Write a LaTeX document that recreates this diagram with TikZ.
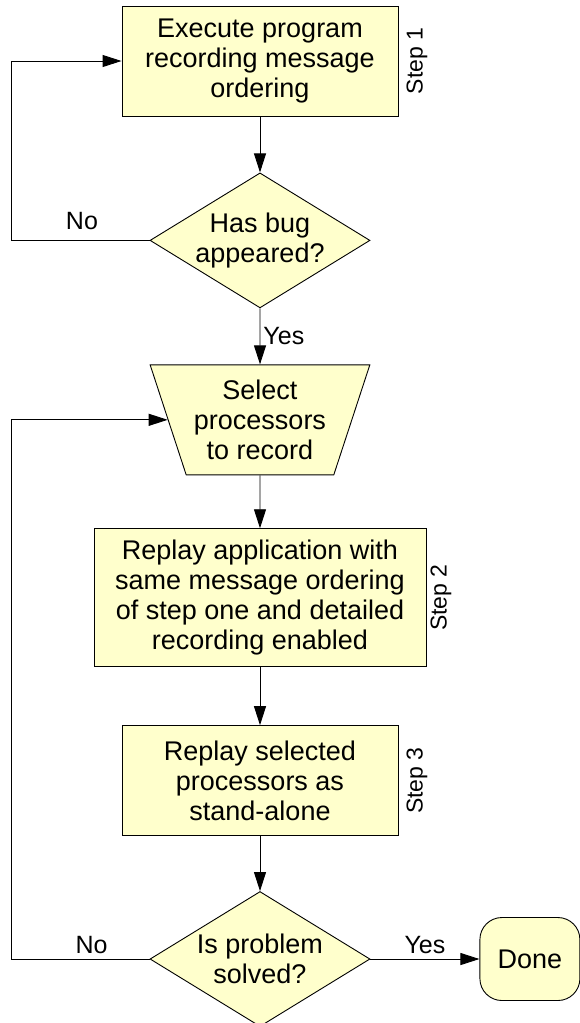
\documentclass[tikz,border=0pt]{standalone}
\usepackage{fontspec}
\setsansfont{Liberation Sans}
\usepackage{tikz}
\usetikzlibrary{arrows.meta,positioning,shapes.geometric}
\definecolor{paleyellow}{RGB}{255,255,204}

\begin{document}
\begin{tikzpicture}[
  x=1pt, y=1pt,
  font=\sffamily\fontsize{27}{30}\selectfont,
  >={Triangle[length=19pt,width=12pt]},
  procbox/.style={draw=black, line width=0.9pt, fill=paleyellow, align=center, inner sep=0pt, minimum width=276pt, minimum height=110pt},
  decision/.style={diamond, draw=black, line width=0.9pt, fill=paleyellow, align=center, inner sep=0pt, aspect=1.63, minimum width=220pt, minimum height=135pt},
  selbox/.style={trapezium, trapezium left angle=112, trapezium right angle=112, trapezium stretches=true, draw=black, line width=0.9pt, fill=paleyellow, align=center, inner sep=0pt, minimum width=220pt, minimum height=110pt},
  term/.style={draw=black, line width=0.9pt, fill=paleyellow, rounded corners=22pt, align=center, minimum width=100pt, minimum height=83pt},
  steplbl/.style={rotate=90, anchor=north, inner sep=0pt, font=\sffamily\fontsize{23}{28}\selectfont},
  lbl/.style={font=\sffamily\fontsize{25}{28}\selectfont, inner sep=5pt},
  arrow/.style={->, line width=0.9pt}
]
\useasboundingbox (0,0) rectangle (580,-1023);

\node[procbox] (exec) at (260,-61) {Execute program\\recording message\\ordering};
\node[decision, below=56pt of exec] (bugq) {Has bug\\appeared?};
\node[selbox, below=56pt of bugq] (select) {Select\\processors\\to record};
\node[procbox, minimum width=332pt, minimum height=138pt, below=53pt of select] (replay) {Replay application with\\same message ordering\\of step one and detailed\\recording enabled};
\node[procbox, below=58pt of replay] (standalone) {Replay selected\\processors as\\stand-alone};
\node[decision, below=55pt of standalone] (solvedq) {Is problem\\solved?};
\node[term, right=109pt of solvedq] (done) {Done};

% step markers
\node[steplbl] at ([xshift=8pt]exec.east) {Step 1};
\node[steplbl] at ([xshift=4pt]replay.east) {Step 2};
\node[steplbl] at ([xshift=8pt]standalone.east) {Step 3};

\draw[arrow] (exec) -- (bugq);
\draw[arrow] (bugq) -- node[lbl, right, inner sep=3pt] {Yes} (select);
\draw[arrow] (select) -- (replay);
\draw[arrow] (replay) -- (standalone);
\draw[arrow] (standalone) -- (solvedq);
\draw[arrow] (solvedq) -- node[lbl, above] {Yes} (done);

% loops back
\draw[arrow] (bugq.west) -- node[lbl, above, pos=0.49, inner sep=10pt] {No} ++(-138,0) |- (exec.west);
\draw[arrow] (solvedq.west) -- node[lbl, above, pos=0.42] {No} ++(-138,0) |- (select);
\end{tikzpicture}
\end{document}
